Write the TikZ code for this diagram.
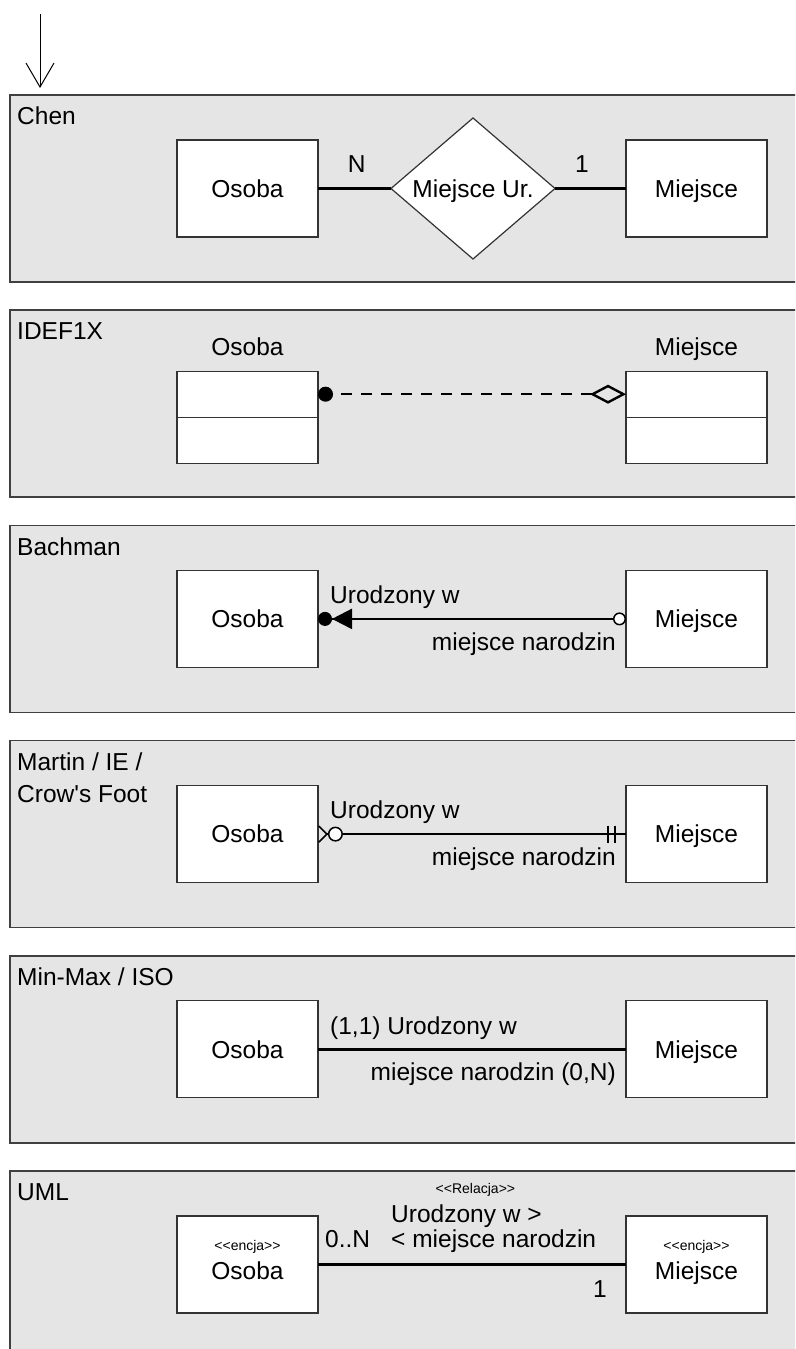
\documentclass[tikz,border=0pt]{standalone}
\usepackage{fontspec}
\setmainfont{Liberation Sans}
\usetikzlibrary{arrows.meta,positioning,shapes.geometric}
\newcommand{\stereotype}[1]{{\fontsize{14}{16}\selectfont <{}<#1>{}>}}

\begin{document}
\begin{tikzpicture}[x=1pt,y=-1pt,font=\fontsize{24.5}{32}\selectfont,
  panel/.style={draw=black!75,fill=gray!20,line width=1.5pt,anchor=north west,
    minimum width=820pt,minimum height=187pt,inner sep=0pt,outer sep=0pt},
  notation/.style={inner sep=2pt,align=left},
  entity/.style={draw=black!80,fill=white,line width=1.2pt,minimum width=141pt,
    minimum height=97pt,inner sep=0pt,outer sep=0pt,text height=17.5pt,text depth=0pt},
  compart/.style={entity,minimum height=46pt},
  relship/.style={diamond,draw=black!80,fill=white,line width=1.2pt,aspect=1.16,
    minimum width=164pt,minimum height=141pt,inner sep=0pt,outer sep=0pt,
    text height=17.5pt,text depth=0pt},
  lbl/.style={inner sep=2pt,text height=18pt,text depth=5.5pt},
  conn/.style={line width=2.4pt},
  crossbar/.style={line width=1.8pt}]

  \useasboundingbox (0,0) rectangle (795,1349);
  \clip (0,0) rectangle (795,1349);

  % ==========================================
  % PANELS AND NOTATION NAMES
  % ==========================================
  \node[panel] (chen) at (10,95) {};
  \foreach \name/\prev in {idef/chen,bach/idef,mart/bach,minmax/mart,uml/minmax}
    \node[panel,below=28.2pt of \prev] (\name) {};

  \foreach \name/\txt in {chen/Chen,idef/IDEF1X,bach/Bachman,
      mart/{Martin / IE /\\Crow\textquotesingle s Foot},minmax/{Min-Max / ISO},uml/UML}
    \node[notation,below right=10pt and 5pt of \name.north west] {\txt};

  % entry arrow
  \coordinate (src) at (40,14);
  \draw[line width=1pt,-{Straight Barb[length=24pt,width=28pt]},shorten >=7pt] (src) -- (src |- chen.north);

  % ==========================================
  % CHEN
  % ==========================================
  \node[entity,below right=45pt and 167pt of chen.north west] (o1) {Osoba};
  \node[relship,right=73pt of o1] (r1) {Miejsce Ur.};
  \node[entity,right=308pt of o1] (m1) {Miejsce};
  \draw[conn] (o1) -- node[lbl,above=7.5pt,pos=.53] {N} (r1);
  \draw[conn] (r1) -- node[lbl,above=7.5pt,pos=.38] {1} (m1);

  % ==========================================
  % IDEF1X
  % ==========================================
  \node[compart,below right=61pt and 167pt of idef.north west] (o2) {};
  \node[compart,below=0pt of o2] (o2b) {};
  \node[compart,right=308pt of o2] (m2) {};
  \node[compart,below=0pt of m2] (m2b) {};
  \node[lbl,above=8.5pt of o2] {Osoba};
  \node[lbl,above=8.5pt of m2] {Miejsce};
  \draw[conn,dash pattern=on 10.5pt off 9.5pt,dash phase=10.5pt,
    {Circle[length=15pt]}-{Diamond[open,length=36pt,width=19pt]}] (o2) -- (m2);

  % ==========================================
  % BACHMAN, MARTIN, MIN-MAX
  % ==========================================
  \foreach \p/\i in {bach/3,mart/4,minmax/5} {
    \node[entity,below right=45pt and 167pt of \p.north west] (o\i) {Osoba};
    \node[entity,right=308pt of o\i] (m\i) {Miejsce};
  }

  % Bachman
  \draw[conn,{Circle[length=14pt] Triangle[length=20pt,width=20pt]}-{Circle[open,fill=white,length=13pt,line width=1.5pt]}] (o3) -- (m3);
  \node[lbl,above right=7.5pt and 10pt of o3.east] {Urodzony w};
  \node[lbl,below left=11pt and 8pt of m3.west] {miejsce narodzin};

  % Martin / crow's foot
  \draw[conn,{Straight Barb[reversed,length=8pt,width=16pt,line width=1.6pt] Circle[open,fill=white,length=15pt,line width=1.5pt]}-] (o4) -- (m4);
  \foreach \dx in {18,11}
    \draw[crossbar] ([xshift=-\dx]m4.west) ++(0,-8.5) -- ++(0,17);
  \node[lbl,above right=7.5pt and 10pt of o4.east] {Urodzony w};
  \node[lbl,below left=11pt and 8pt of m4.west] {miejsce narodzin};

  % Min-Max
  \draw[conn] (o5) -- (m5);
  \node[lbl,above right=7.5pt and 10pt of o5.east] {(1,1) Urodzony w};
  \node[lbl,below left=11pt and 8pt of m5.west] {miejsce narodzin (0,N)};

  % ==========================================
  % UML
  % ==========================================
  \node[entity,align=center,text height=,text depth=,below right=45pt and 167pt of uml.north west] (o6) {\stereotype{encja}\\[-3pt]Osoba\strut};
  \node[entity,align=center,text height=,text depth=,right=308pt of o6] (m6) {\stereotype{encja}\\[-3pt]Miejsce\strut};
  \draw[conn] (o6) -- (m6);
  \node[lbl,above right=9.5pt and 5pt of o6.east] {0..N};
  \node[lbl,above right=9.5pt and 71pt of o6.east] (uml_bwd) {< miejsce narodzin};
  \node[lbl,above right=-3.5pt and 0pt of uml_bwd.north west] (uml_fwd) {Urodzony w >};
  \node[above=3pt of uml_fwd,xshift=9pt] {\stereotype{Relacja}};
  \node[lbl,below left=13pt and 17pt of m6.west] {1};

\end{tikzpicture}
\end{document}
